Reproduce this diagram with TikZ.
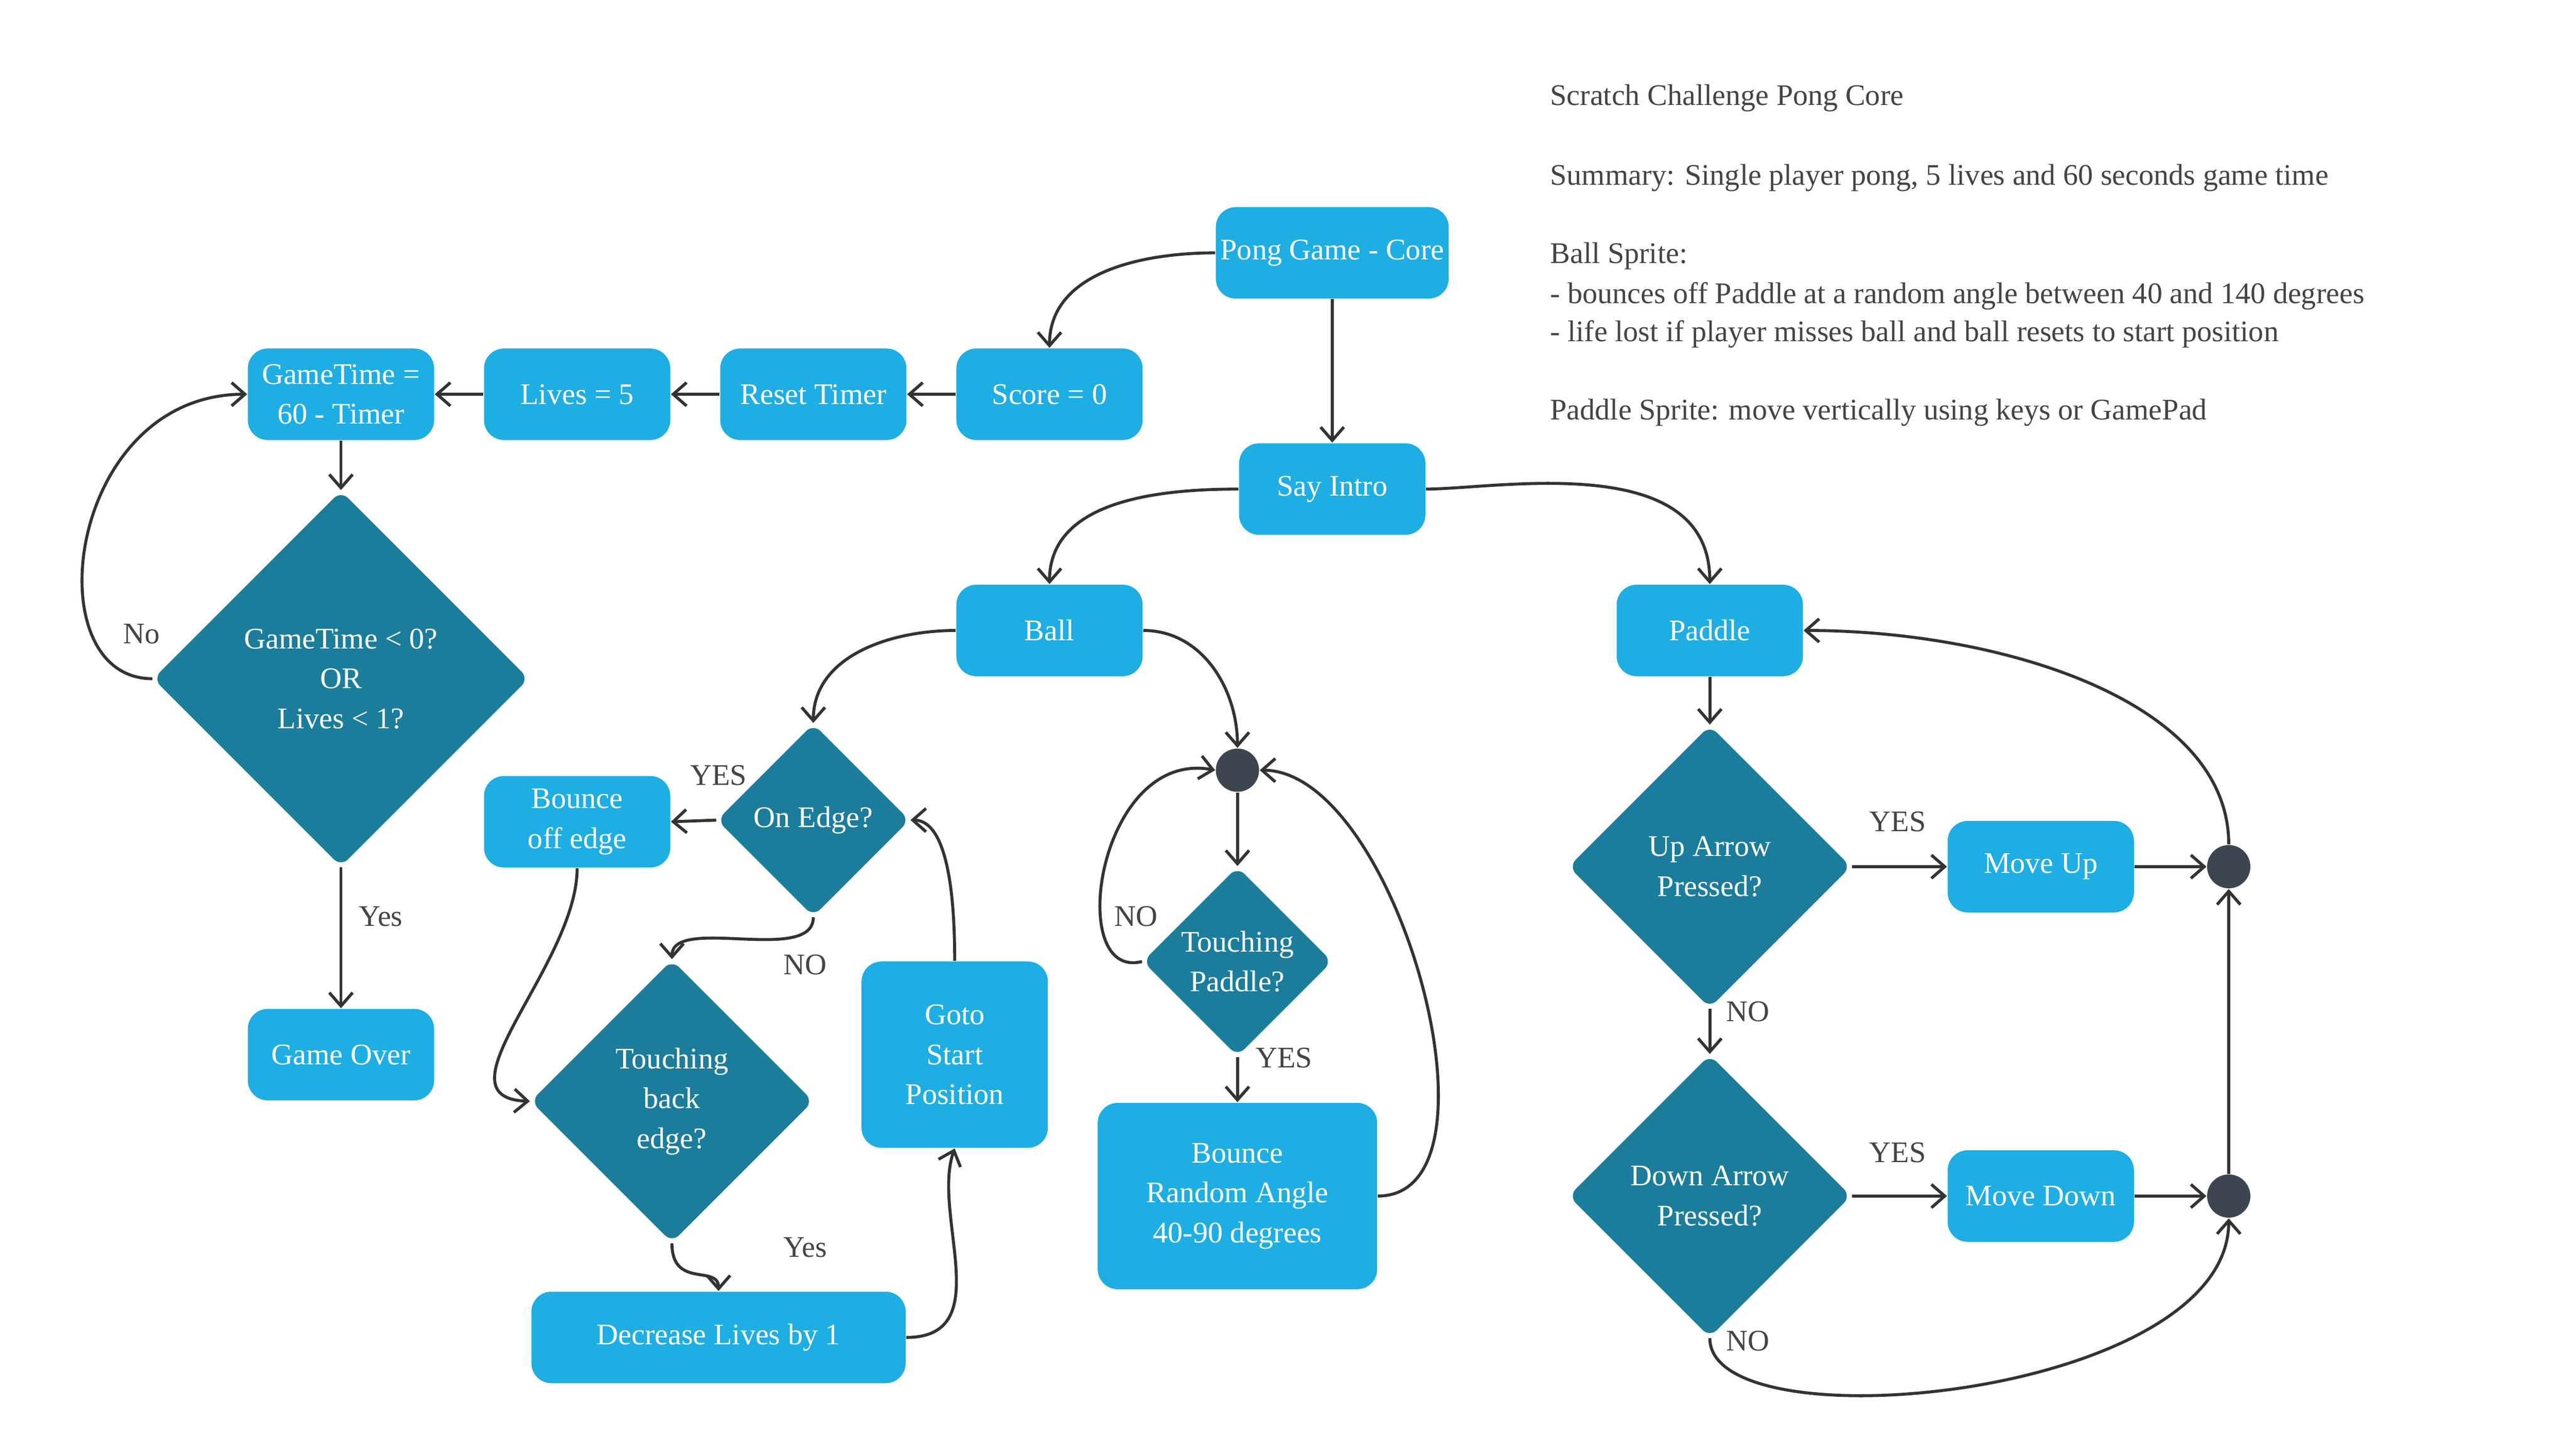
\documentclass[tikz,border=0pt]{standalone}
\usepackage{fontspec}
\setmainfont{Liberation Serif}
\usetikzlibrary{shapes.geometric,arrows.meta}
\definecolor{lb}{HTML}{1EAEE3}
\definecolor{dk}{HTML}{1B7D9B}
\definecolor{jc}{HTML}{3D4650}
\definecolor{ln}{HTML}{333333}
\definecolor{tx}{HTML}{444444}
\begin{document}
\begin{tikzpicture}[x=0.5pt,y=-0.5pt,
  every node/.style={font=\fontsize{9}{12}\selectfont},
  box/.style={draw=none,fill=lb,text=white,rounded corners=6pt,align=center,inner sep=0pt},
  dia/.style={diamond,draw=none,fill=dk,text=white,rounded corners=3pt,align=center,inner sep=0pt,aspect=1},
  jn/.style={circle,fill=jc,minimum size=13pt,inner sep=0pt},
  ar/.style={draw=ln,line width=0.9pt,-{Straight Barb[length=4pt,width=7pt]}},
  lab/.style={text=tx,font=\fontsize{9}{12}\selectfont}]
\useasboundingbox (0,0) rectangle (1547,875);
% nodes
\node[box,minimum width=70pt,minimum height=27.5pt] (pong) at (801,152) {Pong Game - Core};
\node[box,minimum width=56pt,minimum height=27.5pt] (score) at (631,237) {Score = 0};
\node[box,minimum width=56pt,minimum height=27.5pt] (reset) at (489,237) {Reset Timer};
\node[box,minimum width=56pt,minimum height=27.5pt] (lives) at (347,237) {Lives = 5};
\node[box,minimum width=56pt,minimum height=27.5pt] (gt) at (205,237) {GameTime =\\60 - Timer};
\node[dia,minimum width=113pt,minimum height=113pt] (d1) at (205,408) {GameTime < 0?\\OR\\Lives < 1?};
\node[box,minimum width=56pt,minimum height=27.5pt] (over) at (205,634) {Game Over};
\node[box,minimum width=56pt,minimum height=27.5pt] (say) at (801,294) {Say Intro};
\node[box,minimum width=56pt,minimum height=27.5pt] (ball) at (631,379) {Ball};
\node[box,minimum width=56pt,minimum height=27.5pt] (paddle) at (1028,379) {Paddle};
\node[dia,minimum width=58pt,minimum height=58pt] (edge) at (489,493) {On Edge?};
\node[box,minimum width=56pt,minimum height=27.5pt] (boff) at (347,494) {Bounce\\off edge};
\node[dia,minimum width=85pt,minimum height=85pt] (back) at (404,662) {Touching\\back\\edge?};
\node[box,minimum width=112.5pt,minimum height=27.5pt] (dec) at (432,804) {Decrease Lives by 1};
\node[box,minimum width=56pt,minimum height=56pt] (goto) at (574,634) {Goto\\Start\\Position};
\node[jn] (j1) at (744,463) {};
\node[dia,minimum width=57pt,minimum height=57pt] (tp) at (744,578) {Touching\\Paddle?};
\node[box,minimum width=84pt,minimum height=56pt] (bra) at (744,719) {Bounce\\Random Angle\\40-90 degrees};
\node[dia,minimum width=85pt,minimum height=85pt] (up) at (1028,521) {Up Arrow\\Pressed?};
\node[box,minimum width=56pt,minimum height=27.5pt] (mu) at (1227,521) {Move Up};
\node[jn] (j2) at (1340,521) {};
\node[dia,minimum width=85pt,minimum height=85pt] (down) at (1028,719) {Down Arrow\\Pressed?};
\node[box,minimum width=56pt,minimum height=27.5pt] (md) at (1227,719) {Move Down};
\node[jn] (j3) at (1340,719) {};
% text block
\node[lab,anchor=west] (t1) at (925,59) {Scratch Challenge Pong Core};
\node[lab,anchor=west] (t2) at (925,107) {Summary: Single player pong, 5 lives and 60 seconds game time};
\node[lab,anchor=west] (t3) at (925,154) {Ball Sprite:};
\node[lab,anchor=west] (t4) at (925,178) {- bounces off Paddle at a random angle between 40 and 140 degrees};
\node[lab,anchor=west] (t5) at (925,201) {- life lost if player misses ball and ball resets to start position};
\node[lab,anchor=west] (t6) at (925,248) {Paddle Sprite: move vertically using keys or GamePad};
% edges
\draw[ar] (pong.west) to[out=180,in=90] (score.north);
\draw[ar] (score) -- (reset);
\draw[ar] (reset) -- (lives);
\draw[ar] (lives) -- (gt);
\draw[ar] (pong) -- (say);
\draw[ar] (gt) -- (d1);
\draw[ar] (d1.west) .. controls (20,408) and (40,237) .. (gt.west);
\node[lab] (lno) at (85,381) {No};
\draw[ar] (d1) -- (over);
\node[lab] (lyes) at (229,551) {Yes};
\draw[ar] (say.west) to[out=180,in=90] (ball.north);
\draw[ar] (say.east) .. controls (900,294) and (1028,270) .. (paddle.north);
\draw[ar] (ball.west) to[out=180,in=90] (edge.north);
\draw[ar] (ball.east) to[out=0,in=90] (j1.north);
\draw[ar] (edge.west) -- (boff.east);
\node[lab] (l3) at (432,466) {YES};
\draw[ar] (edge.south) .. controls (489,580) and (404,550) .. (back.north);
\node[lab] (l4) at (484,580) {NO};
\draw[ar] (boff.south) .. controls (347,580) and (260,660) .. (back.west);
\draw[ar] (back.south) .. controls (404,775) and (432,760) .. (dec.north);
\node[lab] (l5) at (484,750) {Yes};
\draw[ar] (dec.east) .. controls (600,804) and (560,730) .. (goto.south);
\draw[ar] (goto.north) .. controls (574,520) and (565,493) .. (edge.east);
\draw[ar] (j1) -- (tp);
\draw[ar] (tp.west) .. controls (640,590) and (660,450) .. (j1.west);
\node[lab] (l6) at (683,551) {NO};
\draw[ar] (tp) -- (bra);
\node[lab] (l7) at (772,636) {YES};
\draw[ar] (bra.east) .. controls (910,719) and (840,463) .. (j1.east);
\draw[ar] (paddle) -- (up);
\draw[ar] (up.east) -- (mu.west);
\node[lab] (l8) at (1141,494) {YES};
\draw[ar] (mu.east) -- (j2.west);
\draw[ar] (up.south) -- (down.north);
\node[lab] (l9) at (1051,608) {NO};
\draw[ar] (down.east) -- (md.west);
\node[lab] (l10) at (1141,693) {YES};
\draw[ar] (md.east) -- (j3.west);
\draw[ar] (j3.north) -- (j2.south);
\draw[ar] (j2.north) .. controls (1340,420) and (1200,379) .. (paddle.east);
\draw[ar] (down.south) .. controls (1028,870) and (1340,840) .. (j3.south);
\node[lab] (l11) at (1051,806) {NO};
\end{tikzpicture}
\end{document}
